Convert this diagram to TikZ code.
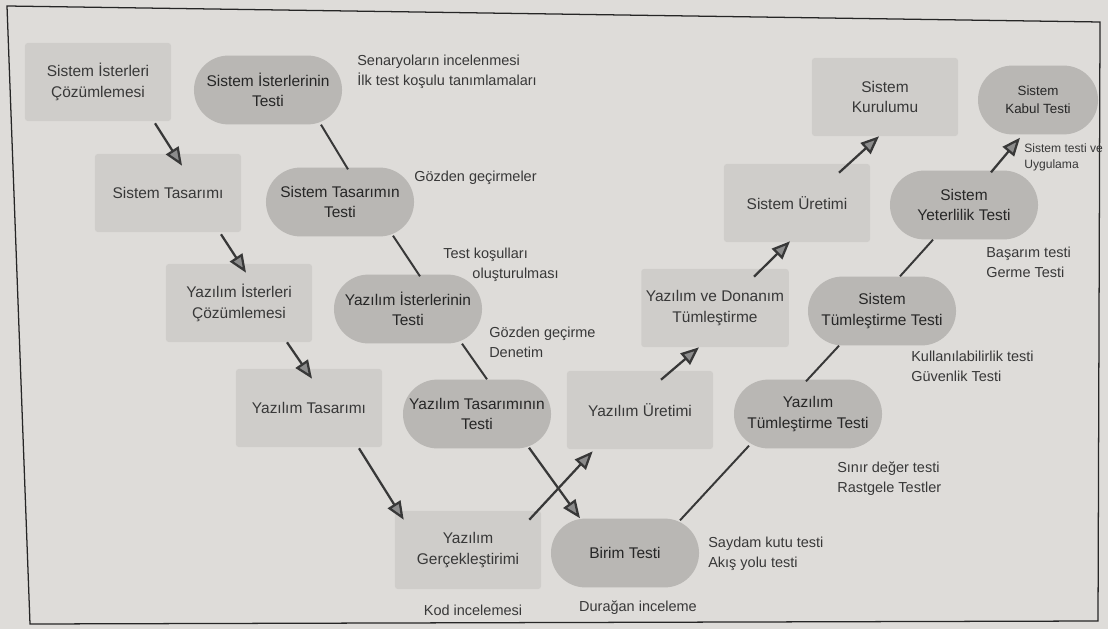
\documentclass[tikz,border=0pt]{standalone}
\usepackage{fontspec}
\setmainfont{Liberation Sans}
\usepackage{tikz}
\usetikzlibrary{arrows.meta, calc, positioning}
\definecolor{paper}{HTML}{DEDCD9}
\definecolor{boxgray}{HTML}{CFCDCA}
\definecolor{testgray}{HTML}{B9B7B4}
\definecolor{inkgray}{HTML}{383838}

\begin{document}
\begin{tikzpicture}[x=0.025cm, y=-0.025cm,
  phase/.style={fill=boxgray, rounded corners=2pt, minimum width=3.65cm, minimum height=1.95cm,
    align=center, text=inkgray, font=\fontsize{11}{14.5}\selectfont},
  testbox/.style={fill=testgray, rounded corners=0.86cm, minimum width=3.7cm, minimum height=1.72cm,
    align=center, text=black!85, font=\fontsize{11}{14.5}\selectfont},
  flow/.style={draw=inkgray, line width=1.6pt, -{Triangle[length=13pt, width=10.5pt, fill=black!45]}},
  link/.style={draw=inkgray, line width=1.4pt},
  note/.style={anchor=west, align=left, inner sep=0pt, text=inkgray, font=\fontsize{10.3}{14}\selectfont}]
  \useasboundingbox (0,0) rectangle (1108,629);
  \fill[paper] (0,0) rectangle (1108,629);
  \draw[line width=0.9pt, black!85] (7,6) -- (1100,22) -- (1098,621) -- (30,624) -- cycle;

  % development side
  \node[phase] (sysreq) at (98, 82) {Sistem İsterleri\\Çözümlemesi};
  \node[phase] (systas) at (168, 193) {Sistem Tasarımı};
  \node[phase] (swreq) at (239, 303) {Yazılım İsterleri\\Çözümlemesi};
  \node[phase] (swtas) at (309, 408) {Yazılım Tasarımı};
  \node[phase] (swgerc) at (468, 550) {Yazılım\\Gerçekleştirimi};
  \node[phase] (swuret) at (640, 410) {Yazılım Üretimi};
  \node[phase] (swdon) at (715, 308) {Yazılım ve Donanım\\Tümleştirme};
  \node[phase] (sysuret) at (797, 203) {Sistem Üretimi};
  \node[phase] (syskur) at (885, 97) {Sistem\\Kurulumu};

  % test side
  \node[testbox] (sysreqtest) at (268, 90) {Sistem İsterlerinin\\Testi};
  \node[testbox] (systastest) at (340, 202) {Sistem Tasarımın\\Testi};
  \node[testbox] (swreqtest) at (408, 309) {Yazılım İsterlerinin\\Testi};
  \node[testbox] (swtastest) at (477, 414) {Yazılım Tasarımının\\Testi};
  \node[testbox] (birim) at (625, 553) {Birim Testi};
  \node[testbox] (swtum) at (808, 414) {Yazılım\\Tümleştirme Testi};
  \node[testbox] (systum) at (882, 311) {Sistem\\Tümleştirme Testi};
  \node[testbox] (yeter) at (964, 205) {Sistem\\Yeterlilik Testi};
  \node[testbox, minimum width=3cm, font=\fontsize{9.5}{12.5}\selectfont] (kabul) at (1038, 100) {Sistem\\Kabul Testi};

  % arrows
  \draw[flow] ($(sysreq.south)+(57,2)$) -- ($(systas.north)+(14,12)$);
  \draw[flow] ($(systas.south)+(53,2)$) -- ($(swreq.north)+(7,9)$);
  \draw[flow] ($(swreq.south)+(48,0)$) -- ($(swtas.north)+(3,10)$);
  \draw[flow] ($(swtas.south)+(50,1)$) -- ($(swgerc.north west)+(9,9)$);
  \draw[flow] ($(swgerc.north east)+(-12,9)$) -- ($(swuret.south west)+(26,2)$);
  \draw[flow] ($(swuret.north)+(21,9)$) -- ($(swdon.south)+(-16,0)$);
  \draw[flow] ($(swdon.north)+(39,8)$) -- ($(sysuret.south)+(-7,-1)$);
  \draw[flow] ($(sysuret.north)+(42,9)$) -- ($(syskur.south)+(-6,0)$);

  \draw[link] ($(sysreqtest.south)+(53,0)$) -- ($(systastest.north)+(8,2)$);
  \draw[link] ($(systastest.south)+(53,-1)$) -- ($(swreqtest.north)+(12,2)$);
  \draw[link] ($(swreqtest.south)+(54,0)$) -- ($(swtastest.north)+(10,0)$);
  \draw[flow] ($(swtastest.south)+(52,-1)$) -- ($(birim.north)+(-45,0)$);
  \draw[link] ($(birim.north)+(55,2)$) -- ($(swtum.south)+(-59,-3)$);
  \draw[link] ($(swtum.north)+(-2,2)$) -- ($(systum.south)+(-43,0)$);
  \draw[link] ($(systum.north)+(18,0)$) -- ($(yeter.south)+(-31,0)$);
  \draw[flow] ($(yeter.north)+(27,2)$) -- ($(kabul.south)+(-18,3)$);

  % notes
  \node[note] (sen) at (357, 72) {Senaryoların incelenmesi\\İlk test koşulu tanımlamaları};
  \node[note] (goz1) at (414, 178) {Gözden geçirmeler};
  \node[note] (testk) at (443, 265) {Test koşulları\\\hspace*{0.73cm}oluşturulması};
  \node[note] (goz2) at (489, 342) {Gözden geçirme\\Denetim};
  \node[note, anchor=center] (kod) at (473, 610) {Kod incelemesi};
  \node[note, anchor=center] (dur) at (638, 608) {Durağan inceleme};
  \node[note] (say) at (708, 554) {Saydam kutu testi\\Akış yolu testi};
  \node[note] (sin) at (837, 479) {Sınır değer testi\\Rastgele Testler};
  \node[note] (kul) at (911, 366) {Kullanılabilirlik testi\\Güvenlik Testi};
  \node[note] (bas) at (986, 262) {Başarım testi\\Germe Testi};
  \node[note, font=\fontsize{8.6}{11.5}\selectfont] (sisu) at (1024, 157) {Sistem testi ve\\Uygulama};
\end{tikzpicture}
\end{document}
